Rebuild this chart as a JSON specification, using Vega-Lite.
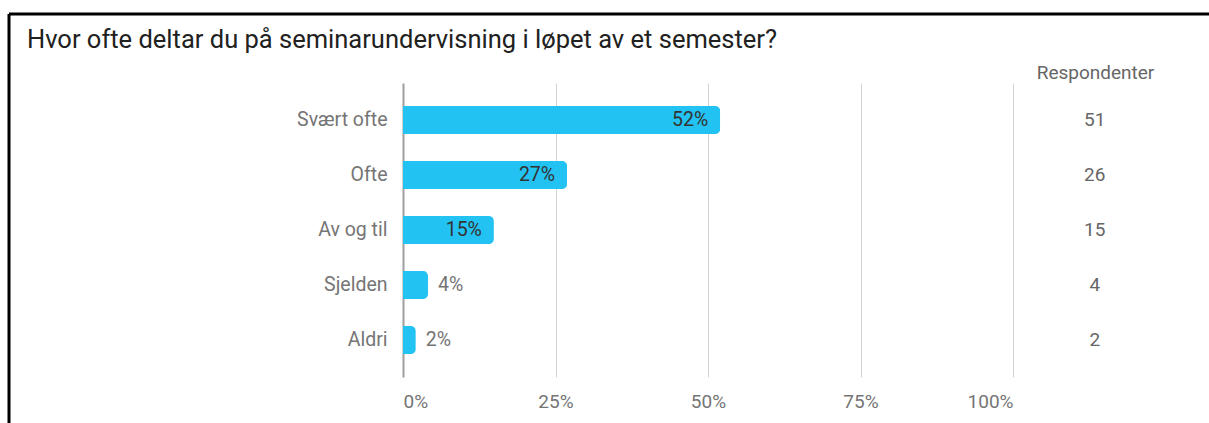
{
  "$schema": "https://vega.github.io/schema/vega-lite/v6.json",
  "width": 1200,
  "height": 409,
  "autosize": {"type": "none"},
  "padding": {"left": 9, "top": 14, "right": 0, "bottom": 0},
  "background": "white",
  "config": {"font": "Roboto", "view": {"stroke": null}},
  "title": {
    "text": "Hvor ofte deltar du på seminarundervisning i løpet av et semester?",
    "anchor": "start",
    "frame": "group",
    "fontSize": 25.5,
    "fontWeight": "normal",
    "color": "#212121",
    "baseline": "alphabetic",
    "offset": 0,
    "dx": 18,
    "dy": 61
  },
  "data": {
    "values": [
      {"kategori": "Svært ofte", "andel": 0.52, "antall": 51},
      {"kategori": "Ofte", "andel": 0.269, "antall": 26},
      {"kategori": "Av og til", "andel": 0.149, "antall": 15},
      {"kategori": "Sjelden", "andel": 0.041, "antall": 4},
      {"kategori": "Aldri", "andel": 0.021, "antall": 2}
    ]
  },
  "resolve": {"scale": {"x": "independent", "y": "independent"}},
  "layer": [
    {
      "data": {"values": [{}]},
      "layer": [
        {
          "mark": {"type": "rule", "color": "#000000", "strokeWidth": 3},
          "encoding": {"x": {"datum": 0, "type": "quantitative", "scale": {"domain": [0, 1]}, "axis": null}}
        },
        {
          "mark": {"type": "rule", "color": "#000000", "strokeWidth": 3},
          "encoding": {"y": {"datum": 1, "type": "quantitative", "scale": {"domain": [0, 1]}, "axis": null}}
        }
      ]
    },
    {
      "encoding": {
        "y": {
          "field": "kategori",
          "type": "nominal",
          "sort": null,
          "scale": {"range": [69, 363], "paddingInner": 0.49, "paddingOuter": 0.42},
          "axis": {
            "orient": "left",
            "offset": -394,
            "domain": false,
            "ticks": false,
            "grid": false,
            "labelPadding": 16,
            "labelFontSize": 19.5,
            "labelColor": "#757575",
            "title": null
          }
        }
      },
      "layer": [
        {
          "mark": {"type": "bar", "color": "#22c3f3", "cornerRadiusEnd": 5},
          "encoding": {
            "x": {
              "field": "andel",
              "type": "quantitative",
              "scale": {"domain": [0, 1], "range": [394, 1004], "nice": false},
              "axis": {
                "orient": "top",
                "values": [0, 0.25, 0.5, 0.75, 1],
                "format": ".0%",
                "offset": -363,
                "domain": false,
                "ticks": false,
                "grid": true,
                "gridColor": {"condition": {"test": "datum.value === 0", "value": "#9e9e9e"}, "value": "#d3d3d3"},
                "gridWidth": {"condition": {"test": "datum.value === 0", "value": 2}, "value": 1},
                "labelPadding": -30,
                "labelBaseline": "alphabetic",
                "labelFontSize": 19,
                "labelColor": "#757575",
                "labelFlush": true,
                "title": "Respondenter",
                "titleX": 1086,
                "titleY": -305,
                "titleAlign": "center",
                "titleBaseline": "middle",
                "titleAngle": 0,
                "titleFontWeight": "normal",
                "titleFontSize": 19,
                "titleColor": "#666666"
              }
            }
          }
        },
        {
          "transform": [{"filter": "datum.andel >= 0.1"}],
          "mark": {"type": "text", "align": "right", "baseline": "middle", "dx": -12, "color": "#333333", "fontSize": 19.5},
          "encoding": {
            "x": {"field": "andel", "type": "quantitative"},
            "text": {"field": "andel", "type": "quantitative", "format": ".0%"}
          }
        },
        {
          "transform": [{"filter": "datum.andel < 0.1"}],
          "mark": {"type": "text", "align": "left", "baseline": "middle", "dx": 10, "color": "#757575", "fontSize": 19.5},
          "encoding": {
            "x": {"field": "andel", "type": "quantitative"},
            "text": {"field": "andel", "type": "quantitative", "format": ".0%"}
          }
        },
        {
          "mark": {"type": "text", "align": "center", "baseline": "middle", "color": "#666666", "fontSize": 19},
          "encoding": {
            "x": {"datum": 1.134, "type": "quantitative"},
            "text": {"field": "antall", "type": "quantitative"}
          }
        }
      ]
    }
  ]
}
